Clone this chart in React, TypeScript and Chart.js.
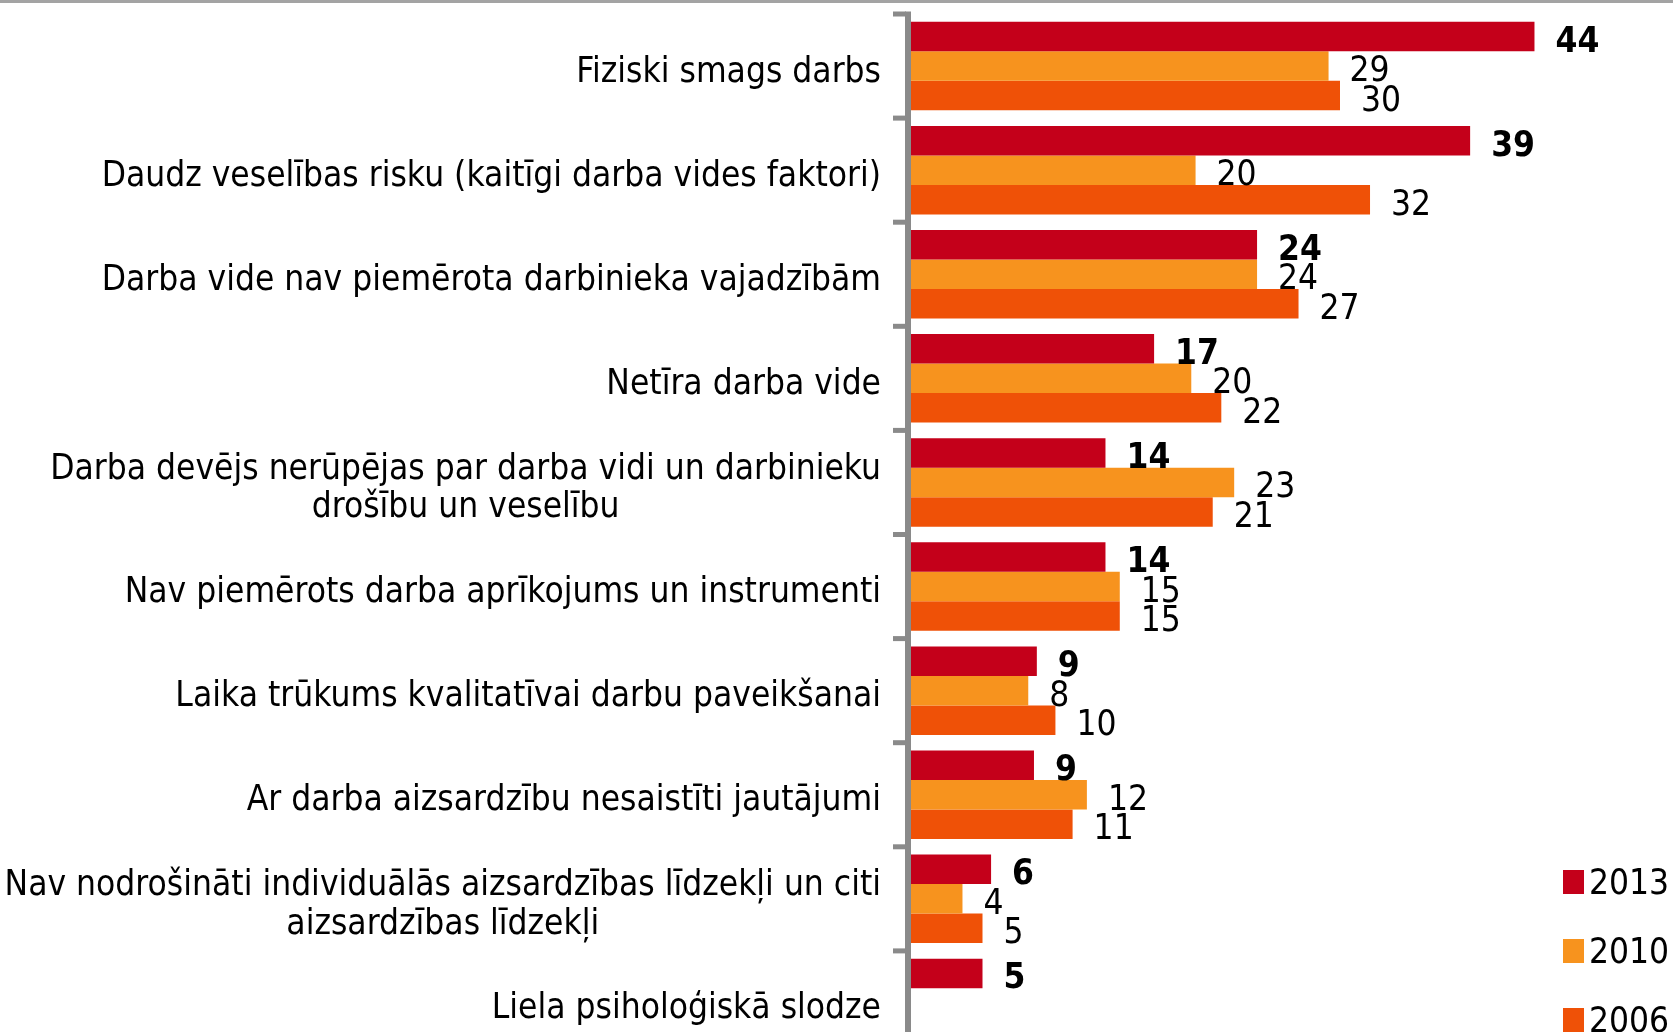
import React, { useEffect, useRef } from 'react';
import { Chart, registerables } from 'chart.js';

Chart.register(...registerables);

const categories: (string | string[])[] = [
  'Fiziski smags darbs',
  'Daudz veselības risku (kaitīgi darba vides faktori)',
  'Darba vide nav piemērota darbinieka vajadzībām',
  'Netīra darba vide',
  ['Darba devējs nerūpējas par darba vidi un darbinieku', 'drošību un veselību'],
  'Nav piemērots darba aprīkojums un instrumenti',
  'Laika trūkums kvalitatīvai darbu paveikšanai',
  'Ar darba aizsardzību nesaistīti jautājumi',
  ['Nav nodrošināti individuālās aizsardzības līdzekļi un citi', 'aizsardzības līdzekļi'],
  'Liela psiholoģiskā slodze',
];

const series2013: (number | null)[] = [43.6, 39.1, 24.2, 17.0, 13.6, 13.6, 8.8, 8.6, 5.6, 5.0];
const series2010: (number | null)[] = [29.2, 19.9, 24.2, 19.6, 22.6, 14.6, 8.2, 12.3, 3.6, null];
const series2006: (number | null)[] = [30.0, 32.1, 27.1, 21.7, 21.1, 14.6, 10.1, 11.3, 5.0, null];

const seriesNames = ['2013', '2010', '2006'];
const seriesColors = ['#C4001A', '#F7931E', '#EF5107'];
const xMin = 0;
const xMax = 50;

const FONT_FAMILY = '"DejaVu Sans", "Noto Sans", sans-serif';
const SX = 0.9;
const AXIS_GRAY = '#8a8a8a';

function drawText(ctx: CanvasRenderingContext2D, text: string, x: number, y: number, align: CanvasTextAlign, font: string) {
  ctx.save();
  ctx.font = font;
  ctx.textAlign = align;
  ctx.textBaseline = 'alphabetic';
  ctx.fillStyle = '#000000';
  ctx.translate(x, y);
  ctx.scale(SX, 1);
  ctx.fillText(text, 0, 0);
  ctx.restore();
}

const decorPlugin = {
  id: 'decor',
  afterDatasetsDraw(chart: any) {
    const ctx: CanvasRenderingContext2D = chart.ctx;
    const area = chart.chartArea;
    const yScale = chart.scales.y;
    const n = categories.length;
    const band = yScale.getPixelForValue(1) - yScale.getPixelForValue(0);

    // axis line
    ctx.save();
    ctx.fillStyle = AXIS_GRAY;
    ctx.fillRect(area.left - 6, yScale.getPixelForValue(0) - band / 2 - 2.5, 6, area.bottom + 10);
    // tick marks at band edges
    for (let i = 0; i <= n; i++) {
      const y = yScale.getPixelForValue(i) - band / 2;
      ctx.fillRect(area.left - 18, y - 2.5, 13, 5);
    }
    ctx.restore();

    // data labels
    chart.data.datasets.forEach((ds: any, d: number) => {
      const meta = chart.getDatasetMeta(d);
      meta.data.forEach((bar: any, i: number) => {
        const v = ds.data[i];
        if (v === null || v === undefined) return;
        const font = `${d === 0 ? 'bold ' : ''}35px ${FONT_FAMILY}`;
        drawText(ctx, String(Math.round(v)), bar.x + 21, bar.y + 15, 'left', font);
      });
    });

    // category labels (right-aligned block, lines centred)
    const labelRight = area.left - 30;
    const font = `35px ${FONT_FAMILY}`;
    ctx.save();
    ctx.font = font;
    categories.forEach((lab, i) => {
      const lines = Array.isArray(lab) ? lab : [lab];
      const widths = lines.map((l) => ctx.measureText(l).width * SX);
      const maxW = Math.max(...widths);
      const cx = labelRight - maxW / 2;
      const cy = yScale.getPixelForValue(i) + 2.5;
      lines.forEach((l, j) => {
        const capMid = cy + (j - (lines.length - 1) / 2) * 38.3;
        drawText(ctx, l, cx, capMid + 13, 'center', font);
      });
    });
    ctx.restore();

    // legend
    const legendTops = [870, 939, 1008];
    chart.data.datasets.forEach((ds: any, d: number) => {
      const top = legendTops[d];
      ctx.save();
      ctx.fillStyle = ds.backgroundColor;
      ctx.fillRect(1563, top, 21, 24);
      ctx.restore();
      drawText(ctx, ds.label, 1589, top + 23.5, 'left', `35px ${FONT_FAMILY}`);
    });

    // top border line
    ctx.save();
    ctx.fillStyle = '#a3a3a3';
    ctx.fillRect(0, 0, chart.width, 3);
    ctx.restore();
  },
};

export default function App() {
  const canvasRef = useRef<HTMLCanvasElement | null>(null);

  useEffect(() => {
    const canvas = canvasRef.current;
    if (!canvas) return;
    const seriesData = [series2013, series2010, series2006];
    const chart = new Chart(canvas, {
      type: 'bar',
      data: {
        labels: categories.map((c) => (Array.isArray(c) ? c.join(' ') : c)),
        datasets: seriesNames.map((name, k) => ({
          label: name,
          data: seriesData[k],
          backgroundColor: seriesColors[k],
          borderWidth: 0,
          categoryPercentage: 0.85,
          barPercentage: 1.0,
        })),
      },
      options: {
        indexAxis: 'y',
        responsive: false,
        maintainAspectRatio: false,
        animation: false,
        layout: { padding: { top: 14, right: 47, bottom: 5, left: 0 } },
        plugins: {
          legend: { display: false },
          tooltip: { enabled: false },
          title: { display: false },
        },
        scales: {
          x: {
            display: false,
            min: xMin,
            max: xMax,
          },
          y: {
            display: true,
            grid: { display: false, drawTicks: false },
            border: { display: false },
            ticks: { display: false },
            afterFit: (scale: any) => {
              scale.width = 911;
            },
          },
        },
      },
      plugins: [decorPlugin],
    });
    return () => chart.destroy();
  }, []);

  return (
    <div
      style={{
        position: 'fixed',
        left: 0,
        top: 0,
        width: 1673,
        height: 1032,
        overflow: 'hidden',
        background: '#ffffff',
      }}
    >
      <canvas ref={canvasRef} width={1673} height={1060} style={{ display: 'block' }} />
    </div>
  );
}
